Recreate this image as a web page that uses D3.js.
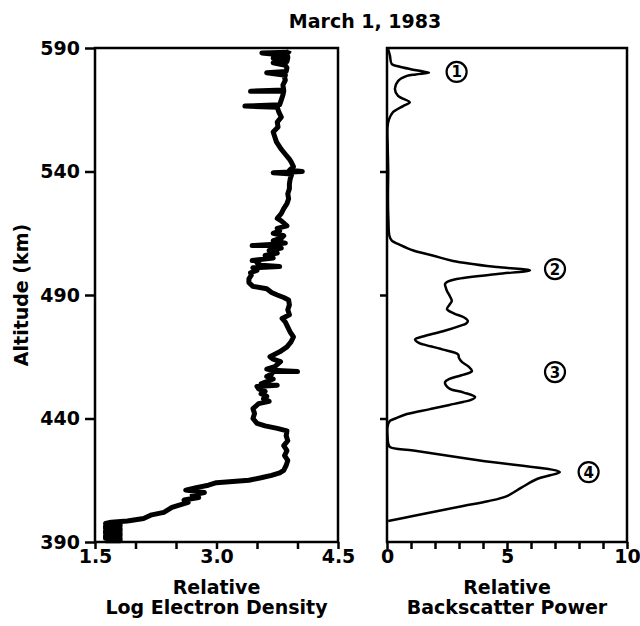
<!DOCTYPE html>
<html>
<head>
<meta charset="utf-8">
<script src="https://cdn.jsdelivr.net/npm/d3@7"></script>
<style>
body { margin: 0; background: #fff; }
#chart text { font-family: "DejaVu Sans", sans-serif; font-weight: bold; fill: #000; }
</style>
</head>
<body>
<div id="chart"></div>
<script>
var width = 640
var height = 626

// altitude axis (km)
var altTicks = [590, 540, 490, 440, 390]

// left panel: relative log electron density, bottom to top
var densAlt = [390.5, 390.5, 391.5, 391.5, 392.5, 392.5, 393.5, 393.5, 394.5, 394.5, 395.5, 395.5, 396.5, 396.5, 397.5, 397.5, 398,
    398.5, 399.5, 401, 402, 403, 404, 405, 406, 407, 408, 409, 410, 411, 412, 413, 414, 414.5, 415, 416, 417, 418, 419,
    421, 423, 425, 427, 429, 431, 433, 435, 436, 437, 438, 440, 442, 444, 446, 447, 448, 449, 450, 451, 452, 453,
    453.5, 454, 456, 457, 458, 459, 459, 459.5, 460, 461, 463, 464, 465, 467, 469, 471, 473, 475, 477, 479, 480.5,
    482, 484, 486, 488, 489, 490, 491, 492.5, 493.5, 495, 496.5, 498, 499, 500, 501, 501.5, 502, 503, 504, 504, 505,
    506, 507, 508, 509, 510, 510, 510.5, 511, 512, 513, 514, 515, 516, 517, 518, 520, 521, 523, 525, 527, 529, 531,
    533, 535, 537, 539, 539.5, 540, 540.5, 542, 544, 545, 547, 549, 551, 552, 554, 556, 558, 560, 562, 564, 566,
    566.5, 567, 569, 571, 572.5, 572.5, 573, 575, 577, 578, 579, 580, 580.5, 582, 583, 584, 584.5, 586, 586, 586.5,
    587, 588, 588.3, 589]
var densVal = [1.63, 1.81, 1.81, 1.63, 1.63, 1.81, 1.81, 1.63, 1.63, 1.81, 1.81, 1.63, 1.63, 1.81, 1.81, 1.63, 1.7,
    1.9, 2.1, 2.2, 2.35, 2.4, 2.45, 2.55, 2.65, 2.6, 2.78, 2.7, 2.85, 2.62, 2.75, 2.9, 3.0, 3.2, 3.4, 3.55, 3.68, 3.78, 3.83,
    3.86, 3.88, 3.84, 3.87, 3.83, 3.88, 3.86, 3.87, 3.75, 3.6, 3.5, 3.45, 3.47, 3.45, 3.52, 3.65, 3.58, 3.62, 3.55, 3.6, 3.52, 3.5,
    3.75, 3.55, 3.7, 3.62, 3.68, 3.7, 4.0, 3.7, 3.62, 3.72, 3.79, 3.7, 3.66, 3.78, 3.87, 3.92, 3.95, 3.91, 3.88, 3.85, 3.81,
    3.9, 3.88, 3.9, 3.89, 3.83, 3.75, 3.68, 3.62, 3.45, 3.4, 3.4, 3.43, 3.42, 3.5, 3.45, 3.78, 3.55, 3.5, 3.52, 3.44, 3.7,
    3.6, 3.75, 3.65, 3.8, 3.7, 3.44, 3.72, 3.85, 3.7, 3.8, 3.83, 3.7, 3.78, 3.75, 3.87, 3.8, 3.75, 3.8, 3.83, 3.87, 3.89, 3.88,
    3.9, 3.9, 3.91, 3.93, 3.7, 4.06, 3.9, 3.95, 3.92, 3.9, 3.85, 3.8, 3.76, 3.74, 3.72, 3.7, 3.76, 3.75, 3.8, 3.77, 3.75,
    3.35, 3.78, 3.8, 3.82, 3.83, 3.42, 3.83, 3.82, 3.85, 3.84, 3.85, 3.62, 3.86, 3.87, 3.85, 3.7, 3.87, 3.88, 3.7, 3.88,
    3.87, 3.56, 3.89, 3.9]

// right panel: relative backscatter power, top to bottom
var powAlt = [589.5, 587, 583.5, 582.5, 581.5, 580.5, 580, 579.3, 578.7, 576.6, 573.4, 570.6, 568, 566.5, 564, 561, 558,
    550, 540, 530, 520, 514, 512, 510.5, 508, 506, 503.8, 501.3, 500, 498.5, 496.5, 495.5, 494.5, 493, 491.6, 489.5,
    487.6, 486, 484.3, 482.5, 481, 479.5, 478.5, 477.5, 475.5, 473.5, 472, 470.5, 470, 468, 466, 464.5, 462.9, 461,
    459.2, 457.5, 456, 454.8, 453.5, 452, 450.5, 448.7, 447.5, 446.7, 445.5, 443.8, 441.8, 440, 439, 436.6, 433, 430,
    428.5, 427, 423, 418.3, 417, 415.5, 412, 408.6, 406.5, 404.6, 400.5, 398.5]
var powVal = [0.05, 0.12, 0.2, 0.5, 0.95, 1.5, 1.75, 1.2, 0.83, 0.46, 0.33, 0.46, 0.95, 0.67, 0.25, 0.08, 0.02,
    0.03, 0.05, 0.04, 0.06, 0.1, 0.2, 0.5, 1.1, 1.9, 2.75, 4.6, 5.96, 4.6, 2.9, 2.55, 2.42, 2.45, 2.5, 2.62,
    2.7, 2.6, 2.5, 2.8, 3.2, 3.37, 3.3, 3.04, 2.4, 1.6, 1.17, 1.35, 1.5, 2.3, 2.96, 3.0, 3.12, 3.4,
    3.54, 3.1, 2.6, 2.42, 2.45, 2.62, 3.2, 3.67, 3.5, 3.17, 2.6, 1.79, 0.83, 0.35, 0.12, 0.02, 0.02, 0.05,
    0.12, 1.1, 3.87, 7.2, 6.8, 6.25, 5.6, 5.0, 4.2, 3.17, 1.08, 0.05]

// circled layer numbers
var layerLabels = ["1", "2", "3", "4"]
var layerAlt = [580.3, 500.5, 458.8, 418.3]
var layerPow = [2.9, 7.0, 7.0, 8.4]

var densTicks = [1.5, 2.0, 2.5, 3.0, 3.5, 4.0, 4.5]
var densLabels = [1.5, 3.0, 4.5]
var powTicks = [0, 1, 2, 3, 4, 5, 6, 7, 8, 9, 10]
var powLabels = [0, 5, 10]

var plotTop = 48, plotBottom = 542
var left1 = 95, right1 = 338
var left2 = 387, right2 = 627

var svg = d3.select("#chart")
    .append("svg")
    .attr("width", width)
    .attr("height", height)

var yScale = d3.scaleLinear().domain([390, 590]).range([plotBottom, plotTop])
var x1 = d3.scaleLinear().domain([1.5, 4.5]).range([left1, right1])
var x2 = d3.scaleLinear().domain([0, 10]).range([left2, right2])

function styleAxis(g)
{
    g.selectAll("path, line").attr("stroke", "#000").attr("stroke-width", 2.5)
    g.selectAll("text").attr("font-size", 19).attr("font-family", null)
}

// panel frames
svg.append("rect")
    .attr("x", left1).attr("y", plotTop)
    .attr("width", right1 - left1).attr("height", plotBottom - plotTop)
    .attr("fill", "none").attr("stroke", "#000").attr("stroke-width", 2.5)
svg.append("rect")
    .attr("x", left2).attr("y", plotTop)
    .attr("width", right2 - left2).attr("height", plotBottom - plotTop)
    .attr("fill", "none").attr("stroke", "#000").attr("stroke-width", 2.5)

// altitude axes
svg.append("g")
    .attr("transform", "translate(" + left1 + ",0)")
    .call(d3.axisLeft(yScale).tickValues(altTicks).tickSize(10).tickSizeOuter(0).tickPadding(5).tickFormat(d3.format("d")))
    .call(styleAxis)
    .call(g => g.select(".domain").remove())
svg.append("g")
    .attr("transform", "translate(" + left2 + ",0)")
    .call(d3.axisLeft(yScale).tickValues([540, 490, 440]).tickSize(7).tickSizeOuter(0).tickFormat(""))
    .call(styleAxis)
    .call(g => g.select(".domain").remove())

// bottom axes
svg.append("g")
    .attr("transform", "translate(0," + plotBottom + ")")
    .call(d3.axisBottom(x1).tickValues(densTicks).tickSize(7).tickSizeOuter(0).tickPadding(1)
        .tickFormat(d => densLabels.indexOf(d) >= 0 ? d3.format(".1f")(d) : ""))
    .call(styleAxis)
    .call(g => g.select(".domain").remove())
svg.append("g")
    .attr("transform", "translate(0," + plotBottom + ")")
    .call(d3.axisBottom(x2).tickValues(powTicks).tickSize(7).tickSizeOuter(0).tickPadding(1)
        .tickFormat(d => powLabels.indexOf(d) >= 0 ? d3.format("d")(d) : ""))
    .call(styleAxis)
    .call(g => g.select(".domain").remove())

// curves
var densLine = d3.line()
    .x(d => x1(d[1]))
    .y(d => yScale(d[0]))
svg.append("path")
    .datum(d3.zip(densAlt, densVal))
    .attr("d", densLine)
    .attr("fill", "none")
    .attr("stroke", "#000")
    .attr("stroke-width", 5)
    .attr("stroke-linejoin", "round")

var powLine = d3.line()
    .x(d => x2(d[1]))
    .y(d => yScale(d[0]))
    .curve(d3.curveCatmullRom)
svg.append("path")
    .datum(d3.zip(powAlt, powVal))
    .attr("d", powLine)
    .attr("fill", "none")
    .attr("stroke", "#000")
    .attr("stroke-width", 2.5)
    .attr("stroke-linejoin", "round")

// circled numbers
var marks = svg.append("g")
layerLabels.forEach(function(lab, i)
{
    var cx = x2(layerPow[i]), cy = yScale(layerAlt[i])
    marks.append("circle")
        .attr("cx", cx).attr("cy", cy).attr("r", 10)
        .attr("fill", "none").attr("stroke", "#000").attr("stroke-width", 2.2)
    marks.append("text")
        .attr("x", cx).attr("y", cy + 5.5)
        .attr("text-anchor", "middle")
        .attr("font-size", 15)
        .text(lab)
})

// titles
svg.append("text")
    .attr("x", 365).attr("y", 28)
    .attr("text-anchor", "middle")
    .attr("font-size", 19)
    .text("March 1, 1983")

svg.append("text")
    .attr("transform", "translate(28,295)rotate(-90)")
    .attr("text-anchor", "middle")
    .attr("font-size", 19)
    .text("Altitude (km)")

var xl = [[(left1 + right1) / 2, "Relative", "Log Electron Density"],
          [(left2 + right2) / 2, "Relative", "Backscatter Power"]]
xl.forEach(function(l)
{
    svg.append("text")
        .attr("x", l[0]).attr("y", 594)
        .attr("text-anchor", "middle")
        .attr("font-size", 19)
        .text(l[1])
    svg.append("text")
        .attr("x", l[0]).attr("y", 614)
        .attr("text-anchor", "middle")
        .attr("font-size", 19)
        .text(l[2])
})
</script>
</body>
</html>
